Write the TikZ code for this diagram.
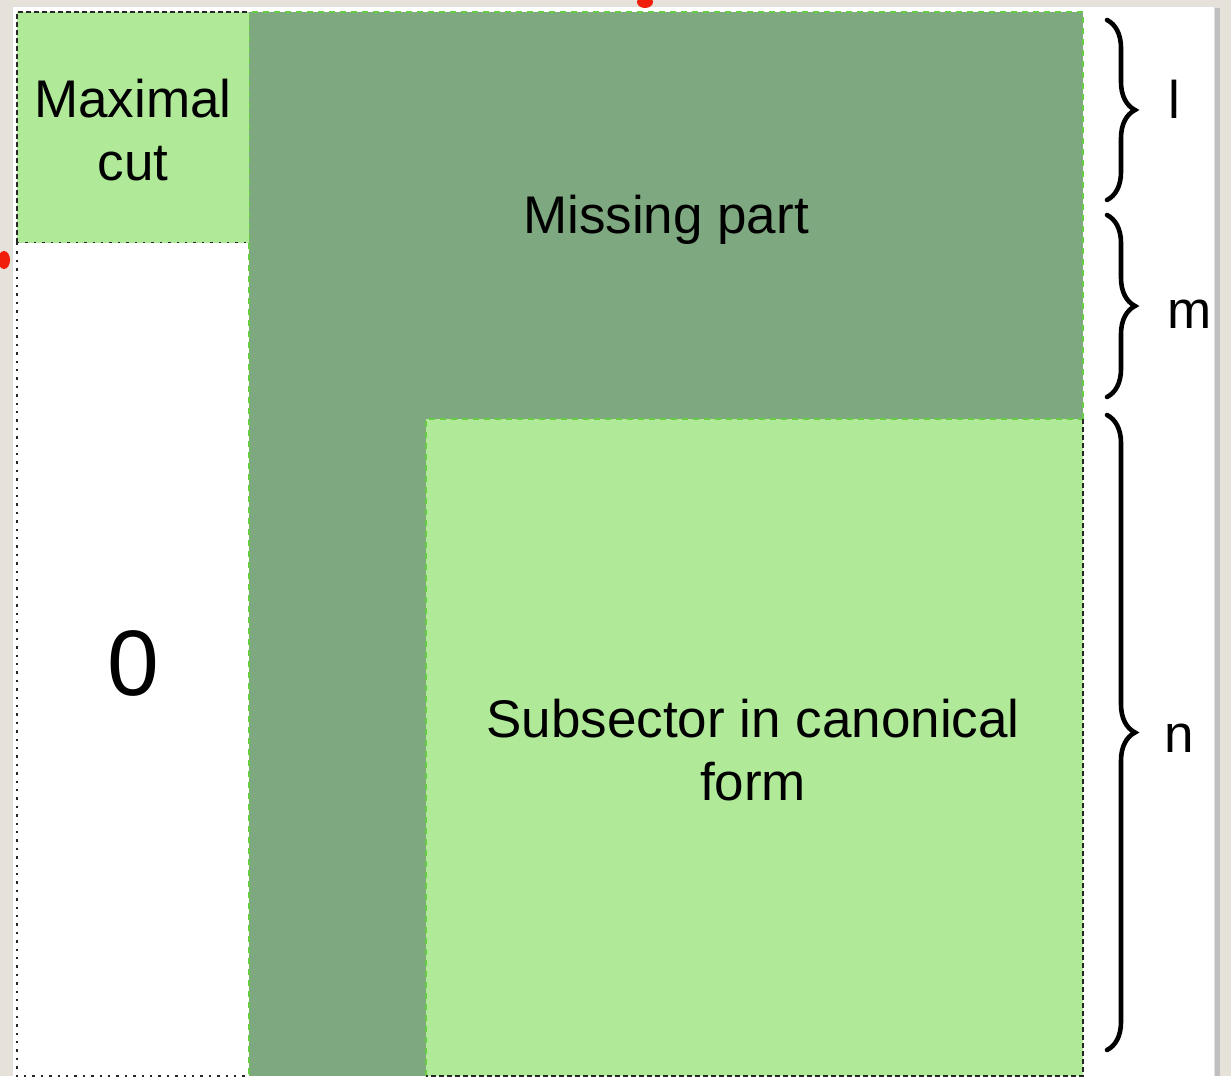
\documentclass[tikz,border=0pt]{standalone}
\usepackage{fontspec}
\setmainfont{Liberation Sans}
\usetikzlibrary{decorations.pathreplacing}
\definecolor{lightgr}{RGB}{176,233,152}
\definecolor{darkgr}{RGB}{126,168,128}
\definecolor{edgegr}{RGB}{102,204,68}
\definecolor{bgbeige}{RGB}{230,226,218}
\definecolor{redblob}{RGB}{240,30,10}
\tikzset{
  blackdash/.style={draw=black!85, line width=2.2pt, dash pattern=on 5pt off 3pt},
  blackdot/.style={draw=black!85, line width=2.4pt, dash pattern=on 2.4pt off 6pt},
  greendash/.style={draw=edgegr, line width=1.8pt, dash pattern=on 6pt off 5pt},
  lbl/.style={inner sep=0pt, text=black},
  bigtxt/.style={lbl, font=\fontsize{53}{63}\selectfont, align=center},
  bracestyle/.style={draw=black, line width=4.6pt, line cap=round,
    decorate, decoration={brace, amplitude=28pt}},
}
\begin{document}
\begin{tikzpicture}[x=1pt,y=-1pt]
\useasboundingbox (0,0) rectangle (1231,1076);
% background and page
\fill[bgbeige] (0,0) rectangle (1231,1076);
\fill[black!25] (1214,8) rectangle (1220,1076);
\fill[white] (12,6) rectangle (1214,1076);
\draw[black!12, line width=1pt] (12,1076) -- (12,6) -- (1214,6) -- (1214,1076);
\fill[redblob] (645,2) ellipse (8pt and 6pt);
\fill[redblob] (4,260) ellipse (6pt and 9pt);
% missing part (dark green)
\fill[darkgr] (249,12) rectangle (1083,1076);
\draw[greendash] (249,1076) -- (249,12) -- (1083,12) -- (1083,419);
% maximal cut
\fill[lightgr] (17,12) rectangle (249,243);
\draw[blackdash] (17,243) -- (17,12) -- (249,12);
\draw[blackdot] (17,243) -- (249,243);
% zero region
\fill[white] (17,243) rectangle (249,1076);
\draw[blackdot] (17,243) -- (17,1076) -- (249,1076);
\draw[greendash] (249,243) -- (249,1076);
% subsector
\fill[lightgr] (426,419) rectangle (1083,1076);
\draw[greendash] (426,1076) -- (426,419) -- (1083,419);
\draw[blackdash] (1083,419) -- (1083,1076) -- (426,1076);
% texts
\node[bigtxt] (maxcut) at (133,130) {Maximal\\cut};
\node[bigtxt, anchor=base] (missing) at (666,233) {Missing part};
\node[lbl, font=\fontsize{93}{100}\selectfont, anchor=base] (zero) at (133,695) {0};
\node[bigtxt] (subsec) at (753,750) {Subsector in canonical\\form};
% braces
\coordinate (lA) at (1107,20);  \coordinate (lB) at (1107,200);
\coordinate (mA) at (1107,215); \coordinate (mB) at (1107,397);
\coordinate (nA) at (1107,415); \coordinate (nB) at (1107,1050);
\draw[bracestyle] (lA) -- (lB);
\draw[bracestyle] (mA) -- (mB);
\draw[bracestyle] (nA) -- (nB);
\node[bigtxt, anchor=base] (lname) at (1174,118) {l};
\node[bigtxt, anchor=base] (mname) at (1190,328) {m};
\node[bigtxt, anchor=base] (nname) at (1179,752) {n};
\end{tikzpicture}
\end{document}
